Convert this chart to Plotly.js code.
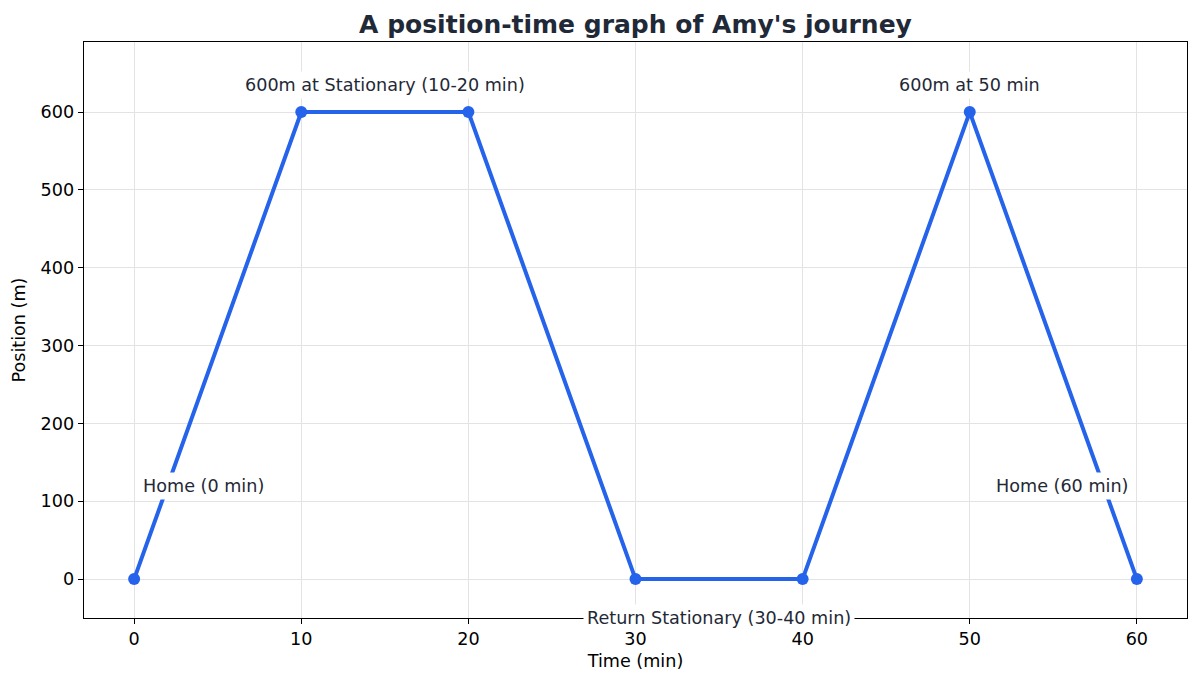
<!DOCTYPE html>
<html>
<head>
<meta charset="utf-8">
<script src="https://cdn.plot.ly/plotly-3.0.1.min.js"></script>
<style>html,body{margin:0;padding:0;background:#fff;}#chart{width:1200px;height:685px;}</style>
</head>
<body>
<div id="chart"></div>
<script>
const times = [0, 10, 20, 30, 40, 50, 60];
const positions = [0, 600, 600, 0, 0, 600, 0];
const xTicks = [0, 10, 20, 30, 40, 50, 60];
const yTicks = [0, 100, 200, 300, 400, 500, 600];
const noteTexts = ["Home (0 min)", "600m at Stationary (10-20 min)", "Return Stationary (30-40 min)", "600m at 50 min", "Home (60 min)"];
const noteX = [0.3, 15, 35, 50, 59.7];
const noteY = [120, 635, -50, 635, 120];
const noteAnchor = ["left", "center", "center", "center", "right"];

const font = "DejaVu Sans, sans-serif";
const trace = {
  x: times, y: positions, type: "scatter", mode: "lines+markers",
  line: {color: "#2563eb", width: 4},
  marker: {color: "#2563eb", size: 12},
  hoverinfo: "skip"
};
const annotations = noteTexts.map((t, i) => ({
  x: noteX[i], y: noteY[i], xref: "x", yref: "y", text: t, showarrow: false,
  xanchor: noteAnchor[i], yanchor: "middle",
  font: {family: font, size: 17.6, color: "#1f2937"},
  bgcolor: "#ffffff", borderpad: 3
}));
const layout = {
  width: 1200, height: 685,
  margin: {l: 84, r: 13, t: 42, b: 67},
  paper_bgcolor: "#fff", plot_bgcolor: "#fff",
  showlegend: false,
  title: {text: "<b>A position-time graph of Amy's journey</b>", xref: "paper", x: 0.5, xanchor: "center", yref: "container", y: 0.965, yanchor: "middle",
    font: {family: font, size: 25, color: "#1f2937"}},
  xaxis: {
    range: [-3, 63], tickvals: xTicks, ticktext: xTicks.map(String),
    ticks: "outside", ticklen: 5, tickcolor: "#000", tickwidth: 1,
    showline: true, linecolor: "#000", linewidth: 1.3, mirror: true,
    showgrid: true, gridcolor: "#e3e3e3", gridwidth: 1, zeroline: false,
    tickfont: {family: font, size: 17.6, color: "#000"},
    title: {text: "Time (min)", font: {family: font, size: 17.6, color: "#000"}, standoff: 6}
  },
  yaxis: {
    range: [-50, 690], tickvals: yTicks, ticktext: yTicks.map(String),
    ticks: "outside", ticklen: 5, tickcolor: "#000", tickwidth: 1,
    showline: true, linecolor: "#000", linewidth: 1.3, mirror: true,
    showgrid: true, gridcolor: "#e3e3e3", gridwidth: 1, zeroline: false,
    tickfont: {family: font, size: 17.6, color: "#000"},
    title: {text: "Position (m)", font: {family: font, size: 17.6, color: "#000"}, standoff: 10}
  },
  annotations: annotations
};
Plotly.newPlot("chart", [trace], layout, {displayModeBar: false, staticPlot: true});
</script>
</body>
</html>
